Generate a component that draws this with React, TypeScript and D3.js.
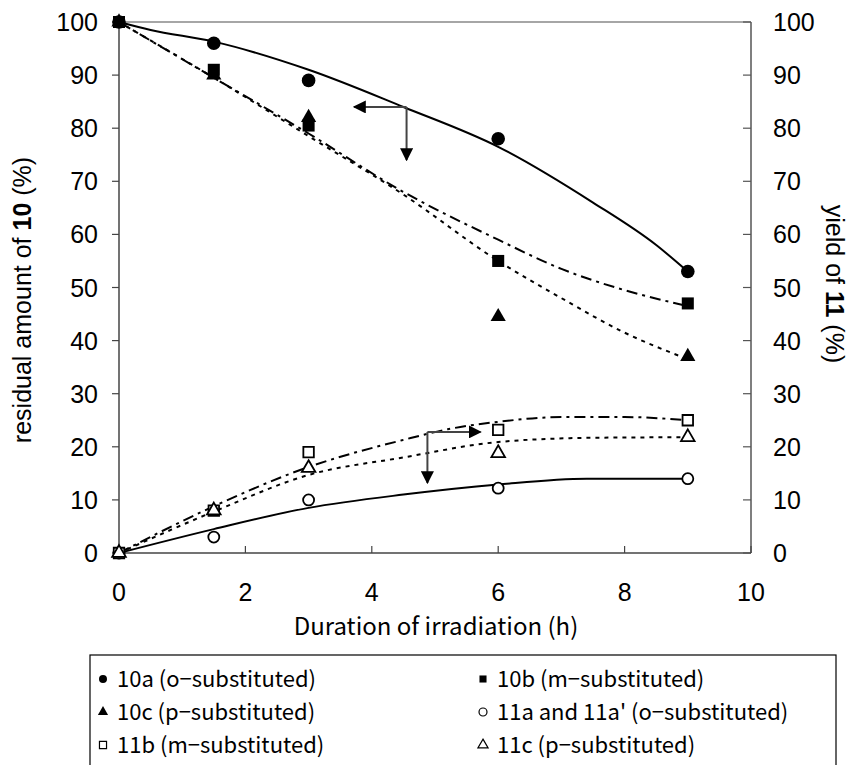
import React from "react";
import * as d3 from "d3";

// measured points (h, %)
const hours = [0, 1.5, 3, 6, 9];
const res10a = [100, 96, 89, 78, 53];
const res10b = [100, 91, 80.5, 55, 47];
const res10c = [100, 90, 82, 44.5, 37];
const yld11a = [0, 3, 10, 12.2, 14];
const yld11b = [0, 8, 19, 23.2, 25];
const yld11c = [0, 8, 16, 18.8, 21.8];

// fitted curves
const fitHours = [0, 0.5, 1.5, 3, 4.5, 6, 7.5, 8.5, 9];
const fit10a = [100, 98.5, 96.3, 91, 84, 76.5, 66, 58, 53];
const fitHoursB = [0, 1.5, 3, 4.5, 6, 7, 8, 9];
const fit10b = [100, 89.5, 79, 68, 59, 53.5, 49.5, 46.5];
const fit10c = [100, 89.5, 78.5, 67.5, 55, 48, 41.5, 36.5];
const fitHoursLow = [0, 1.5, 3, 4.5, 6, 7.4, 9];
const fit11a = [0, 4.5, 8.5, 11, 12.9, 14, 14];
const fitHoursLowB = [0, 1.5, 3, 4.5, 5.2, 6, 7, 8, 9];
const fit11b = [0, 8.8, 16.2, 21.3, 23.3, 24.7, 25.6, 25.6, 25];
const fitHoursLowC = [0, 1.5, 3, 4.5, 6, 7.5, 9];
const fit11c = [0, 7.8, 14.7, 18, 20.9, 21.7, 21.8];

const xTicks = [0, 2, 4, 6, 8, 10];
const yTicks = [0, 10, 20, 30, 40, 50, 60, 70, 80, 90, 100];

// annotation arrows: corner, tip of horizontal arm, tip of vertical arm
const arrows = [
  { corner: [4.55, 84], side: [3.72, 84], down: [4.55, 74] },
  { corner: [4.88, 22.8], side: [5.72, 22.8], down: [4.88, 13.2] },
];

const legendLabels = [
  "10a (o\u2212substituted)",
  "10b (m\u2212substituted)",
  "10c (p\u2212substituted)",
  "11a and 11a' (o\u2212substituted)",
  "11b (m\u2212substituted)",
  "11c (p\u2212substituted)",
];
const legendShapes = ["circle", "square", "triangle", "circle", "square", "triangle"];
const legendFilled = [true, true, true, false, false, false];

const W = 854;
const H = 765;
const tickFont = "'Liberation Sans', Arial, sans-serif";
const jpFont = "'Noto Sans CJK JP', sans-serif";

function symbolPath(shape: string, size: number) {
  const t =
    shape === "circle" ? d3.symbolCircle : shape === "square" ? d3.symbolSquare : d3.symbolTriangle;
  return d3.symbol().type(t).size(size)() as string;
}

export default function App() {
  const x = d3.scaleLinear().domain([0, 10]).range([119, 751]);
  const y = d3.scaleLinear().domain([0, 100]).range([553, 22]);

  const line = d3
    .line<[number, number]>()
    .x((d) => x(d[0]))
    .y((d) => y(d[1]))
    .curve(d3.curveMonotoneX);

  const curves = [
    { xs: fitHours, ys: fit10a, dash: null },
    { xs: fitHoursB, ys: fit10b, dash: "11,5,3,5" },
    { xs: fitHoursB, ys: fit10c, dash: "4,5" },
    { xs: fitHoursLow, ys: fit11a, dash: null },
    { xs: fitHoursLowB, ys: fit11b, dash: "11,5,3,5" },
    { xs: fitHoursLowC, ys: fit11c, dash: "4,5" },
  ];

  const series = [
    { ys: res10a, shape: "circle", filled: true, size: 145 },
    { ys: res10b, shape: "square", filled: true, size: 145 },
    { ys: res10c, shape: "triangle", filled: true, size: 100 },
    { ys: yld11a, shape: "circle", filled: false, size: 95 },
    { ys: yld11b, shape: "square", filled: false, size: 110 },
    { ys: yld11c, shape: "triangle", filled: false, size: 80 },
  ];

  return (
    <svg
      width={W}
      height={H}
      style={{ position: "absolute", left: 0, top: 0, background: "#fff" }}
    >
      <defs>
        <marker
          id="head"
          viewBox="0 0 10 10"
          refX="9"
          refY="5"
          markerWidth="13"
          markerHeight="13"
          markerUnits="userSpaceOnUse"
          orient="auto"
        >
          <path d="M0,0 L10,5 L0,10 Z" fill="#000" />
        </marker>
      </defs>

      {/* frame */}
      <line x1={x(0)} x2={x(10)} y1={y(100)} y2={y(100)} stroke="#888" strokeWidth={1.5} />
      <line x1={x(10)} x2={x(10)} y1={y(100)} y2={y(0)} stroke="#555" strokeWidth={1.5} />
      <line x1={x(0)} x2={x(0)} y1={y(100)} y2={y(0)} stroke="#444" strokeWidth={1.5} />
      <line x1={x(0)} x2={x(10)} y1={y(0)} y2={y(0)} stroke="#444" strokeWidth={1.5} />

      {/* ticks */}
      {yTicks.map((t) => (
        <g key={"yt" + t}>
          <line x1={x(0) - 7} x2={x(0)} y1={y(t)} y2={y(t)} stroke="#444" strokeWidth={1.2} />
          <line x1={x(10) - 8} x2={x(10)} y1={y(t)} y2={y(t)} stroke="#555" strokeWidth={1.2} />
          <text
            x={98}
            y={y(t)}
            dy="0.36em"
            textAnchor="end"
            fontFamily={tickFont}
            fontSize={25}
          >
            {t}
          </text>
          <text x={773} y={y(t)} dy="0.36em" fontFamily={tickFont} fontSize={25}>
            {t}
          </text>
        </g>
      ))}
      {xTicks.map((t) => (
        <g key={"xt" + t}>
          <line x1={x(t)} x2={x(t)} y1={y(0)} y2={y(0) - 7} stroke="#444" strokeWidth={1.2} />
          <text
            x={x(t)}
            y={592}
            dy="0.36em"
            textAnchor="middle"
            fontFamily={tickFont}
            fontSize={25}
          >
            {t}
          </text>
        </g>
      ))}

      {/* axis titles */}
      <text
        x={436}
        y={626}
        dy="0.36em"
        textAnchor="middle"
        fontFamily={jpFont}
        fontSize={24}
      >
        Duration of irradiation (h)
      </text>
      <text
        transform="translate(22,300) rotate(-90)"
        textAnchor="middle"
        dy="0.36em"
        fontFamily={tickFont}
        fontSize={25}
      >
        residual amount of <tspan fontWeight="bold">10</tspan> (%)
      </text>
      <text
        transform="translate(835,284) rotate(90)"
        textAnchor="middle"
        dy="0.36em"
        fontFamily={tickFont}
        fontSize={25}
      >
        yield of <tspan fontWeight="bold">11</tspan> (%)
      </text>

      {/* fitted curves */}
      {curves.map((c, i) => (
        <path
          key={"c" + i}
          d={line(c.xs.map((h, j) => [h, c.ys[j]] as [number, number])) as string}
          fill="none"
          stroke="#000"
          strokeWidth={2}
          strokeDasharray={c.dash || undefined}
        />
      ))}

      {/* arrows */}
      {arrows.map((a, i) => (
        <g key={"a" + i} stroke="#444" strokeWidth={2}>
          <line
            x1={x(a.corner[0])}
            y1={y(a.corner[1])}
            x2={x(a.side[0])}
            y2={y(a.side[1])}
            markerEnd="url(#head)"
          />
          <line
            x1={x(a.corner[0])}
            y1={y(a.corner[1])}
            x2={x(a.down[0])}
            y2={y(a.down[1])}
            markerEnd="url(#head)"
          />
        </g>
      ))}

      {/* data markers */}
      {series.map((s, i) =>
        s.ys.map((v, j) => (
          <path
            key={"p" + i + "-" + j}
            transform={`translate(${x(hours[j])},${y(v)})`}
            d={symbolPath(s.shape, s.size)}
            fill={s.filled ? "#000" : "#fff"}
            stroke="#000"
            strokeWidth={s.filled ? 0 : 1.8}
          />
        ))
      )}

      {/* legend */}
      <rect x={90} y={655} width={746} height={120} fill="none" stroke="#000" strokeWidth={1.2} />
      {legendLabels.map((lab, i) => {
        const col = i % 2;
        const row = Math.floor(i / 2);
        const mx = col === 0 ? 103 : 483;
        const my = 679 + row * 33;
        return (
          <g key={"l" + i}>
            <path
              transform={`translate(${mx},${my})`}
              d={symbolPath(legendShapes[i], legendShapes[i] === "triangle" ? 45 : 50)}
              fill={legendFilled[i] ? "#000" : "#fff"}
              stroke="#000"
              strokeWidth={legendFilled[i] ? 0 : 1.2}
            />
            <text x={mx + 14} y={my} dy="0.36em" fontFamily={jpFont} fontSize={22}>
              {lab}
            </text>
          </g>
        );
      })}
    </svg>
  );
}
